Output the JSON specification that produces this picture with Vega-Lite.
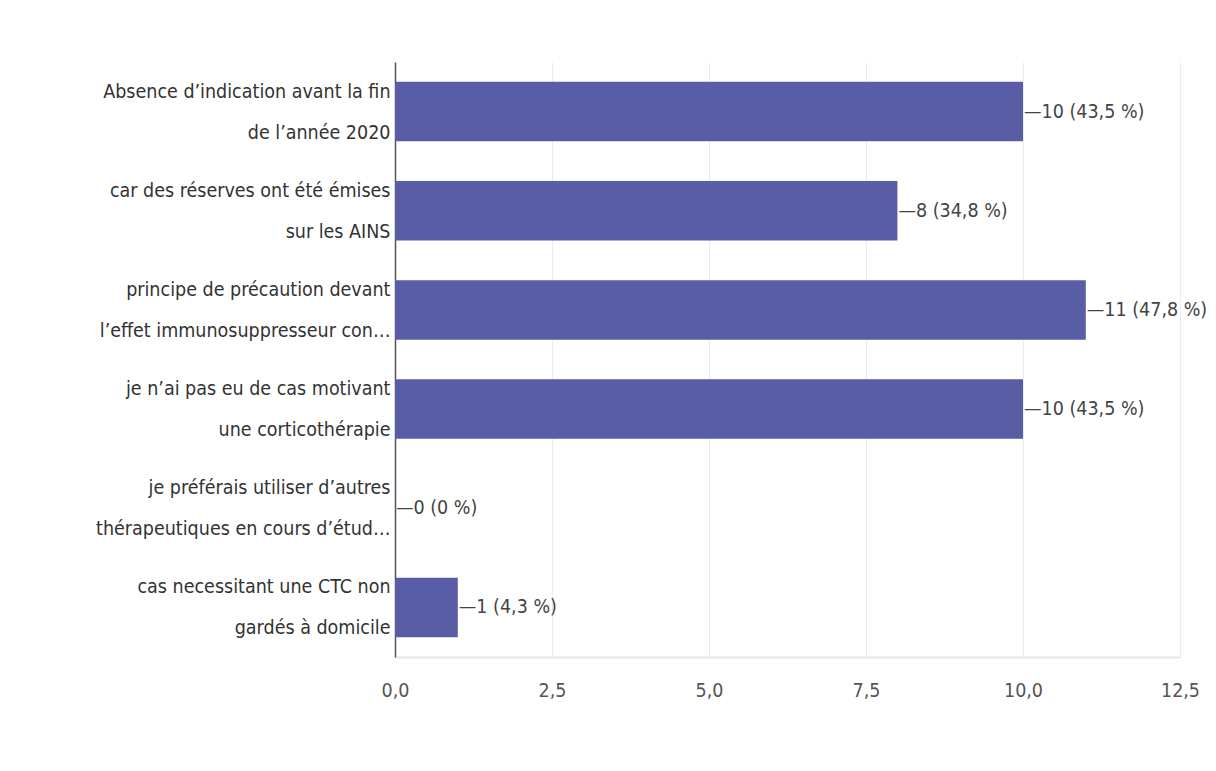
{
  "$schema": "https://vega.github.io/schema/vega-lite/v6.json",
  "width": 785,
  "height": 595,
  "autosize": {"type": "none"},
  "padding": {"left": 395, "top": 62, "right": 36, "bottom": 114},
  "background": "white",
  "config": {
    "view": {"stroke": null},
    "font": "DejaVu Sans Condensed, sans-serif"
  },
  "data": {
    "values": [
      {"reason": "Absence d’indication avant la fin|de l’année 2020", "count": 10, "label": "—10 (43,5 %)"},
      {"reason": "car des réserves ont été émises|sur les AINS", "count": 8, "label": "—8 (34,8 %)"},
      {"reason": "principe de précaution devant|l’effet immunosuppresseur con…", "count": 11, "label": "—11 (47,8 %)"},
      {"reason": "je n’ai pas eu de cas motivant|une corticothérapie", "count": 10, "label": "—10 (43,5 %)"},
      {"reason": "je préférais utiliser d’autres|thérapeutiques en cours d’étud…", "count": 0, "label": "—0 (0 %)"},
      {"reason": "cas necessitant une CTC non|gardés à domicile", "count": 1, "label": "—1 (4,3 %)"}
    ]
  },
  "encoding": {
    "y": {
      "field": "reason",
      "type": "nominal",
      "sort": null,
      "title": null,
      "scale": {"paddingInner": 0.4, "paddingOuter": 0.2},
      "axis": {
        "labelExpr": "split(datum.value, '|')",
        "labelFont": "DejaVu Sans Condensed, sans-serif",
        "labelFontSize": 19.5,
        "labelLineHeight": 41,
        "labelOffset": -20,
        "labelColor": "#333333",
        "labelPadding": 5,
        "ticks": false,
        "domainColor": "#555555",
        "domainWidth": 1.5,
        "labelLimit": 400
      }
    },
    "x": {
      "field": "count",
      "type": "quantitative",
      "title": null,
      "scale": {"domain": [0, 12.5], "nice": false},
      "axis": {
        "values": [0, 2.5, 5, 7.5, 10, 12.5],
        "labelExpr": "replace(format(datum.value, '.1f'), '.', ',')",
        "labelFont": "DejaVu Sans Condensed, sans-serif",
        "labelFontSize": 19.5,
        "labelColor": "#555555",
        "labelPadding": 24,
        "ticks": false,
        "domainColor": "#e6e6e6",
        "domainWidth": 2,
        "gridColor": "#ececec",
        "labelFlush": false
      }
    }
  },
  "layer": [
    {"mark": {"type": "bar", "color": "#585da6"}},
    {
      "mark": {"type": "text", "align": "left", "baseline": "middle", "dx": 1, "fontSize": 19.5, "color": "#444444", "font": "DejaVu Sans Condensed, sans-serif"},
      "encoding": {"text": {"field": "label"}}
    }
  ]
}
